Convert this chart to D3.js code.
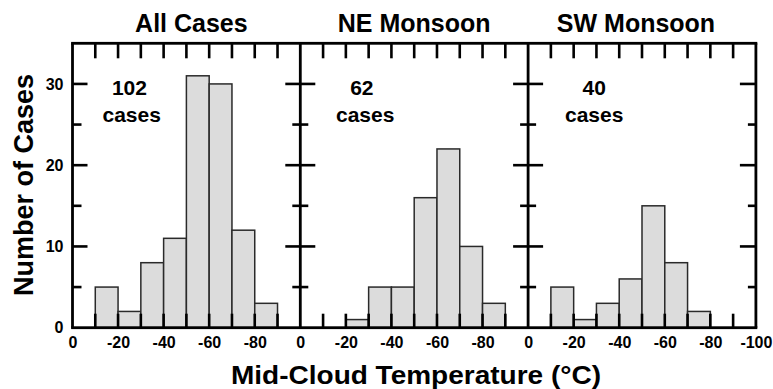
<!DOCTYPE html>
<html>
<head>
<meta charset="utf-8">
<script src="https://cdn.jsdelivr.net/npm/d3@7"></script>
<style>
  html, body { margin: 0; padding: 0; background: #fff; }
  svg { display: block; }
  text { font-family: "Liberation Sans", Arial, Helvetica, sans-serif; font-weight: bold; fill: #000; }
</style>
</head>
<body>
<svg id="chart" width="773" height="389"></svg>
<script>
// ---- data ----
const panelTitles = ["All Cases", "NE Monsoon", "SW Monsoon"];
const caseCounts = ["102", "62", "40"];
const caseWord = "cases";
// each bin spans [binStart, binStart - 10] °C
const binStarts = [-10, -20, -30, -40, -50, -60, -70, -80];
const allCases  = [5, 2, 8, 11, 31, 30, 12, 3];
const neMonsoon = [0, 1, 5, 5, 16, 22, 10, 3];
const swMonsoon = [5, 1, 3, 6, 15, 8, 2, 0];
const xTickLabels = [0, -20, -40, -60, -80];
const xTickLabelsLast = [0, -20, -40, -60, -80, -100];
const xMinorTicks = [-10, -20, -30, -40, -50, -60, -70, -80, -90];
const yMajorTicks = [0, 10, 20, 30];
const yMinorTicks = [5, 15, 25];
const xTitle = "Mid-Cloud Temperature (°C)";
const yTitle = "Number of Cases";

// ---- layout ----
const series = [allCases, neMonsoon, swMonsoon];
const svg = d3.select("#chart");
const leftX = 72.5, panelW = 227.8, topY = 43.3, bottomY = 327.7;
const labelPos = [[-25, -26], [-27, -28.5], [-29, -29]]; // data-x of count / "cases"
const tickW = 2.6, frameW = 2.8;

const y = d3.scaleLinear().domain([0, 35]).range([bottomY, topY]);
const xs = series.map((s, i) =>
  d3.scaleLinear().domain([0, -100]).range([leftX + i * panelW, leftX + (i + 1) * panelW]));

const segs = [];
function hseg(x1, x2, yy, w) { segs.push({ x: Math.min(x1, x2), y: yy - w / 2, w: Math.abs(x2 - x1), h: w }); }
function vseg(xx, y1, y2, w) { segs.push({ x: xx - w / 2, y: Math.min(y1, y2), w: w, h: Math.abs(y2 - y1) }); }

series.forEach((vals, i) => {
  const x = xs[i];
  const bins = binStarts.map((b, k) => ({ x0: b, x1: b - 10, v: vals[k] })).filter(d => d.v > 0);
  svg.append("g").selectAll("rect").data(bins).join("rect")
    .attr("x", d => x(d.x0))
    .attr("width", d => x(d.x1) - x(d.x0))
    .attr("y", d => y(d.v))
    .attr("height", d => y(0) - y(d.v))
    .attr("fill", "#dcdcdc")
    .attr("stroke", "#2a2a2a")
    .attr("stroke-width", 1.5);

  xMinorTicks.forEach(t => {
    vseg(x(t), bottomY - 14, bottomY, tickW);
    vseg(x(t), topY, topY + 15, tickW);
  });

  svg.append("g").attr("transform", `translate(0,${bottomY})`)
    .call(d3.axisBottom(x).tickValues(i === 2 ? xTickLabelsLast : xTickLabels)
      .tickSize(0).tickPadding(9).tickFormat(d => d === 0 ? "0" : "-" + Math.abs(d)))
    .call(g => g.select("path.domain").remove())
    .call(g => g.selectAll("text").attr("font-size", 16).attr("fill", "#000")
      .attr("font-family", '"Liberation Sans", Arial, sans-serif').attr("font-weight", "bold"));

  const titleOffset = [5, 0, -6][i];
  svg.append("text")
    .attr("x", (x(0) + x(-100)) / 2 + titleOffset)
    .attr("y", 32)
    .attr("text-anchor", "middle")
    .attr("font-size", 25)
    .text(panelTitles[i]);

  svg.append("text")
    .attr("x", x(labelPos[i][0])).attr("y", 95)
    .attr("text-anchor", "middle").attr("font-size", 21)
    .text(caseCounts[i]);
  svg.append("text")
    .attr("x", x(labelPos[i][1])).attr("y", 121.5)
    .attr("text-anchor", "middle").attr("font-size", 21)
    .text(caseWord);
});

const x0 = xs[0](0), xEnd = xs[2](-100);
yMajorTicks.slice(1).forEach(t => hseg(x0, x0 + 15, y(t), tickW));
yMinorTicks.forEach(t => hseg(x0, x0 + 9, y(t), tickW));
[1, 2].forEach(i => {
  const xp = xs[i](0);
  yMajorTicks.slice(1).forEach(t => hseg(xp - 15, xp + 15, y(t), tickW));
  yMinorTicks.forEach(t => hseg(xp - 8, xp + 8, y(t), tickW));
});
yMajorTicks.slice(1).forEach(t => hseg(xEnd - 16, xEnd, y(t), tickW));
yMinorTicks.forEach(t => hseg(xEnd - 8, xEnd, y(t), tickW));

hseg(x0 - frameW / 2, xEnd + frameW / 2, bottomY, frameW);
hseg(x0 - frameW / 2, xEnd + frameW / 2, topY, frameW);
[0, 1, 2].forEach(i => vseg(xs[i](0), topY, bottomY, frameW));
vseg(xEnd, topY, bottomY, frameW);

svg.append("g").selectAll("rect").data(segs).join("rect")
  .attr("x", d => d.x).attr("y", d => d.y)
  .attr("width", d => d.w).attr("height", d => d.h)
  .attr("fill", "#000");

svg.append("g").attr("transform", `translate(${x0},0)`)
  .call(d3.axisLeft(y).tickValues(yMajorTicks).tickSize(0).tickPadding(9))
  .call(g => g.select("path.domain").remove())
  .call(g => g.selectAll("text").attr("font-size", 16).attr("fill", "#000")
    .attr("font-family", '"Liberation Sans", Arial, sans-serif').attr("font-weight", "bold"));

svg.append("text")
  .attr("x", 416).attr("y", 383.5)
  .attr("text-anchor", "middle").attr("font-size", 25)
  .attr("textLength", 370).attr("lengthAdjust", "spacingAndGlyphs")
  .text(xTitle);
svg.append("text")
  .attr("transform", "translate(33,185) rotate(-90)")
  .attr("text-anchor", "middle").attr("font-size", 27)
  .text(yTitle);
</script>
</body>
</html>
